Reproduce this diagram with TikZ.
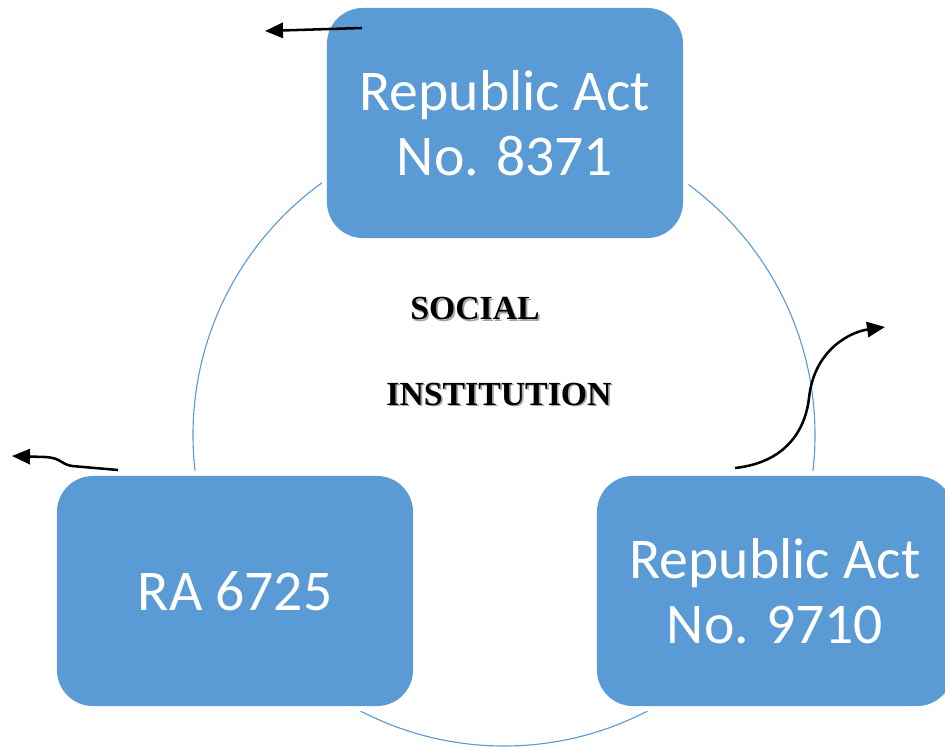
\documentclass[tikz,border=0pt]{standalone}
\usepackage{fontspec}
\setmainfont{Carlito}
\newfontfamily\titlefont{Liberation Serif}
\usetikzlibrary{calc}
\usetikzlibrary{arrows.meta}
\usepackage{xcolor}
\definecolor{actblue}{HTML}{5B9BD5}

\newcommand{\shadowed}[1]{\rlap{\textcolor{gray!70}{\kern1.2pt\raisebox{-1.2pt}{#1}}}#1}

\begin{document}
\begin{tikzpicture}[x=0.025cm, y=-0.025cm,
  act/.style={rounded corners=0.9cm, fill=actblue, preaction={draw=white, line width=0.26cm},
    minimum width=8.9cm, minimum height=5.75cm, inner sep=0pt, align=center,
    text=white, font=\fontsize{41}{46}\selectfont},
  title/.style={anchor=base, font=\titlefont\bfseries\fontsize{24}{26}\selectfont},
  flow/.style={line width=1.8pt, -{Triangle[length=0.45cm, width=0.38cm]}}]
\pgfmathsetmacro{\ringradius}{311}
\pgfmathsetmacro{\ringwidth}{0.8pt}

\useasboundingbox (0,0) rectangle (945,747);

\coordinate (ring_centre) at (504, 435);
\draw [actblue, line width=\ringwidth] (ring_centre) circle [radius=\ringradius];

\node [act] (ra8371) at (505, 123) {Republic Act\\No. 8371};
\node [act] (ra6725) at (235, 591) {RA 6725};
\node [act] (ra9710) at (775, 591) {Republic Act\\No. 9710};

\node [title] (social) at (475, 320) {\shadowed{SOCIAL}};
\node [title] (institution) at (499, 405) {\shadowed{INSTITUTION}};

% free arrow ends
\coordinate (top_start) at (362, 28);
\coordinate (top_end) at (265, 31);
\coordinate (left_start) at (118, 470);
\coordinate (left_end) at (12, 456);
\coordinate (right_start) at (735, 468);
\coordinate (right_end) at (885, 327);

\draw [flow] (top_start) -- (top_end);
\draw [flow] (left_start) -- (72, 466) .. controls (60, 464) and (62, 458) .. (45, 457) -- (left_end);
\draw [flow] (right_start) .. controls (790, 462) and (806, 425) .. (809, 398)
  .. controls (814, 350) and (850, 332) .. (right_end);
\end{tikzpicture}
\end{document}
